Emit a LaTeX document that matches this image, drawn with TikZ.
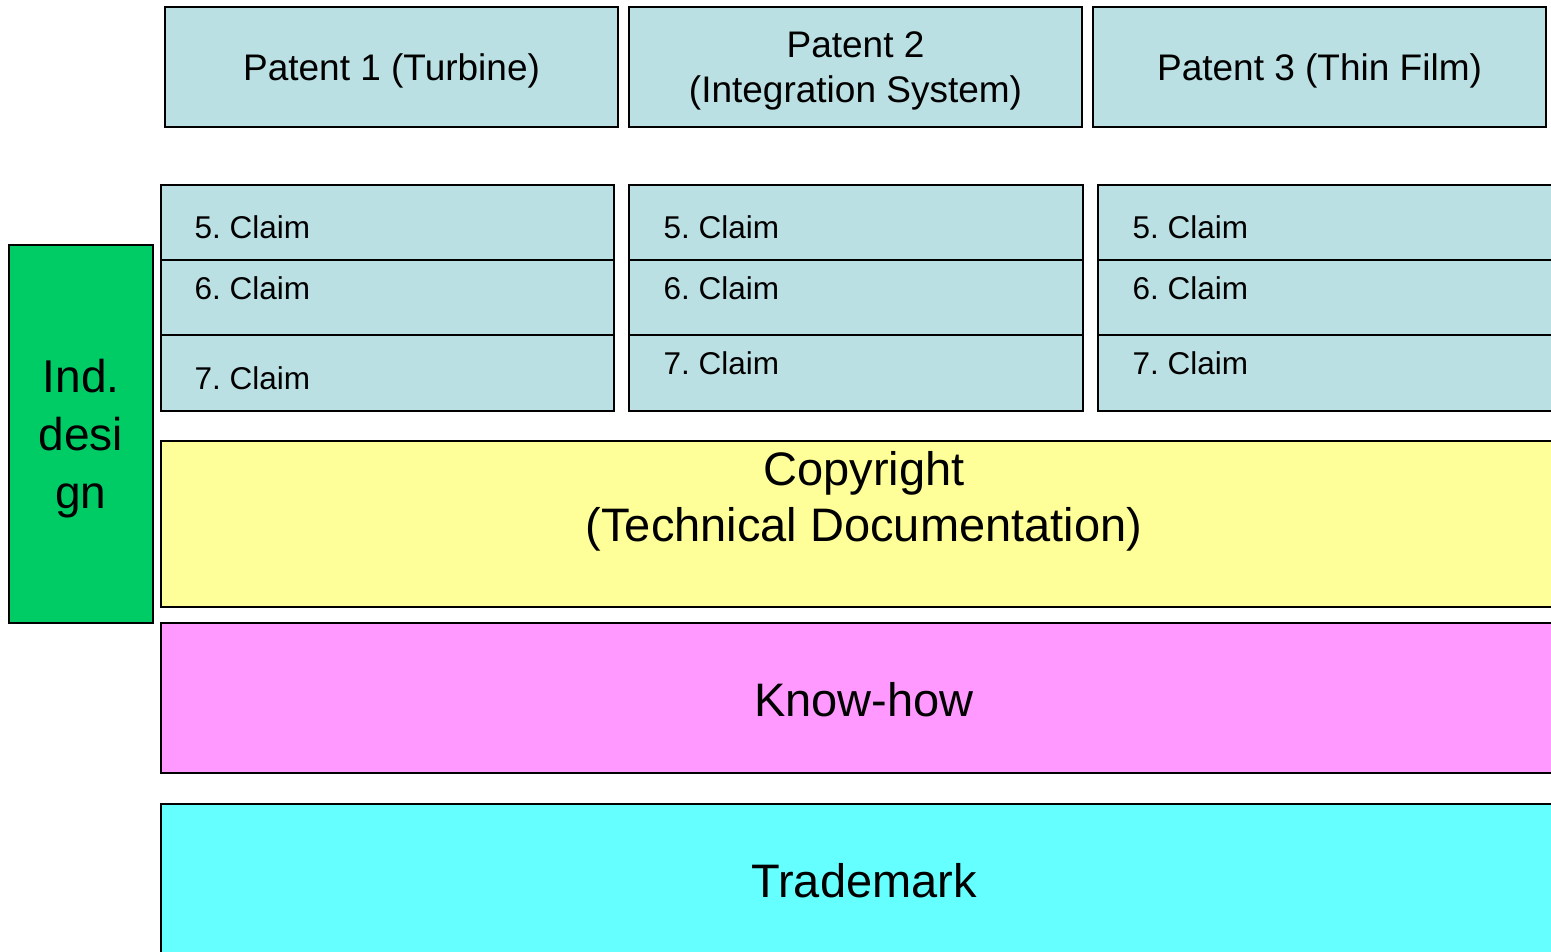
\documentclass[tikz,border=0pt]{standalone}
\usepackage{fontspec}
\setmainfont{Liberation Sans}
\frenchspacing
\definecolor{patentblue}{HTML}{BBE0E3}
\definecolor{designgreen}{HTML}{00CC66}
\definecolor{copyyellow}{HTML}{FFFF99}
\definecolor{knowpink}{HTML}{FF99FF}
\definecolor{trademarkcyan}{HTML}{66FFFF}

\begin{document}
\begin{tikzpicture}[x=1pt,y=-1pt,
    box/.style={color=black,line width=1.8pt},
    patenttext/.style={align=center,font=\fontsize{37}{45}\selectfont},
    claimtext/.style={anchor=west,font=\fontsize{31.5}{38}\selectfont},
    bigtext/.style={align=center,font=\fontsize{47}{56}\selectfont}]
        \clip (0,0) rectangle (1551,952);
        % patents
        \draw [box][fill=patentblue] (165,7) -- (618,7) -- (618,127) -- (165,127) -- cycle ;
        \draw [box][fill=patentblue] (629,7) -- (1082,7) -- (1082,127) -- (629,127) -- cycle ;
        \draw [box][fill=patentblue] (1093,7) -- (1546,7) -- (1546,127) -- (1093,127) -- cycle ;
        \draw (391.5,71) node [patenttext] (pat1) {Patent 1 (Turbine)};
        \draw (855.5,71) node [patenttext] (pat2) {Patent 2\\(Integration System)};
        \draw (1319.5,71) node [patenttext] (pat3) {Patent 3 (Thin Film)};
        % claims
        \draw [box][fill=patentblue] (161,185) -- (614,185) -- (614,260) -- (161,260) -- cycle ;
        \draw [box][fill=patentblue] (161,260) -- (614,260) -- (614,335) -- (161,335) -- cycle ;
        \draw [box][fill=patentblue] (161,335) -- (614,335) -- (614,411) -- (161,411) -- cycle ;
        \draw [box][fill=patentblue] (629,185) -- (1083,185) -- (1083,260) -- (629,260) -- cycle ;
        \draw [box][fill=patentblue] (629,260) -- (1083,260) -- (1083,335) -- (629,335) -- cycle ;
        \draw [box][fill=patentblue] (629,335) -- (1083,335) -- (1083,411) -- (629,411) -- cycle ;
        \draw [box][fill=patentblue] (1098,185) -- (1570,185) -- (1570,260) -- (1098,260) -- cycle ;
        \draw [box][fill=patentblue] (1098,260) -- (1570,260) -- (1570,335) -- (1098,335) -- cycle ;
        \draw [box][fill=patentblue] (1098,335) -- (1570,335) -- (1570,411) -- (1098,411) -- cycle ;
        \draw (191,227) node [claimtext] (c1a) {5. Claim};
        \draw (191,288) node [claimtext] (c1b) {6. Claim};
        \draw (191,378.5) node [claimtext] (c1c) {7. Claim};
        \draw (660,227) node [claimtext] (c2a) {5. Claim};
        \draw (660,288) node [claimtext] (c2b) {6. Claim};
        \draw (660,363) node [claimtext] (c2c) {7. Claim};
        \draw (1129,227) node [claimtext] (c3a) {5. Claim};
        \draw (1129,288) node [claimtext] (c3b) {6. Claim};
        \draw (1129,363) node [claimtext] (c3c) {7. Claim};
        % industrial design
        \draw [box][fill=designgreen] (9,245) -- (153,245) -- (153,623) -- (9,623) -- cycle ;
        \draw (81,439) node [bigtext,font=\fontsize{46}{58}\selectfont] (design) {Ind.\\desi\\gn};
        % copyright, know-how, trademark
        \draw [box][fill=copyyellow] (161,441) -- (1570,441) -- (1570,607) -- (161,607) -- cycle ;
        \draw [box][fill=knowpink] (161,623) -- (1570,623) -- (1570,773) -- (161,773) -- cycle ;
        \draw [box][fill=trademarkcyan] (161,804) -- (1570,804) -- (1570,970) -- (161,970) -- cycle ;
        \draw (864,501) node [bigtext] (copy) {Copyright\\(Technical Documentation)};
        \draw (864,700) node [bigtext] (know) {Know-how};
        \draw (864,881) node [bigtext] (trade) {Trademark};
    \end{tikzpicture}
\end{document}
